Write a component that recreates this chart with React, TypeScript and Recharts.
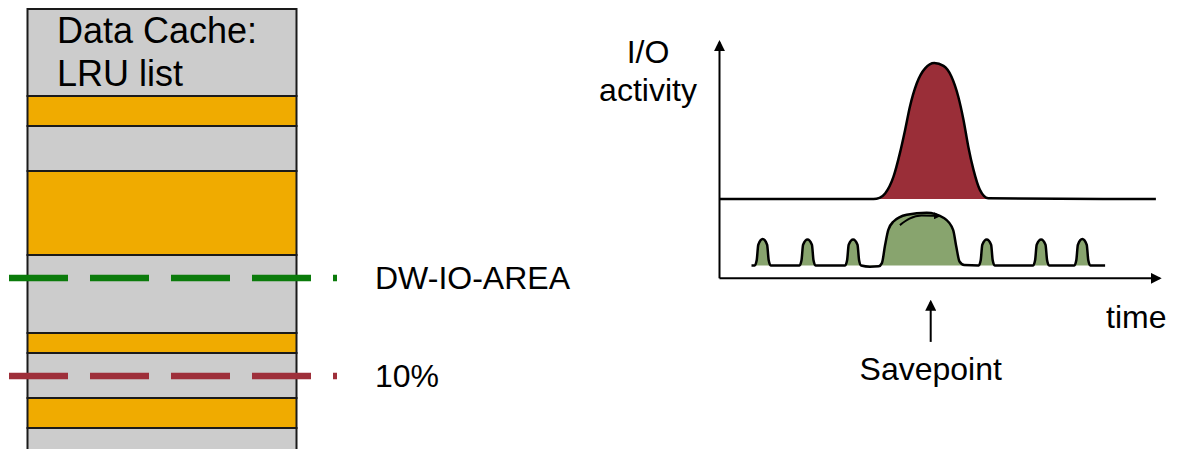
import { BarChart, Bar, XAxis, YAxis, ReferenceLine, ComposedChart, Area, Line } from 'recharts'

// data cache LRU list, blocks from bottom to top
const lruBlocks = [32, 30, 45, 20, 78, 84, 45, 30, 87]
const lruDirty = [false, true, false, true, false, true, false, true, false]
const dwIoAreaLevel = 182
const tenPercentLevel = 84

// I/O activity over time: [time, activity]
const savepointIo: [number, number][] = [
  [0, 19.8], [38.5, 19.8], [40.0, 20.1], [41.4, 21.2], [43.5, 25.4], [45.1, 31.3],
  [46.4, 37.1], [47.6, 42.9], [49.3, 48.7], [51.4, 52.5], [53.7, 53.8], [56.0, 53.1],
  [58.0, 50.4], [59.7, 45.4], [61.0, 39.6], [62.2, 32.9], [63.5, 27.1], [65.1, 22.1],
  [67.2, 20.0], [109.1, 19.8],
]

const regularIo: [number, number][] = [
  [8.0, 3.2],
  [8.8, 3.2], [9.3, 4.5], [9.7, 8.4], [10.8, 9.8], [11.9, 8.4], [12.3, 4.5], [12.8, 3.2],
  [20.0, 3.2], [20.5, 4.5], [20.9, 8.4], [22.0, 9.7], [23.1, 8.4], [23.5, 4.5], [24.0, 3.2],
  [31.4, 3.2], [31.9, 4.5], [32.3, 8.4], [33.4, 9.7], [34.5, 8.4], [34.9, 4.5], [35.4, 3.2],
  [37.6, 2.9], [39.8, 3.0], [40.6, 3.8], [41.4, 8.3], [42.2, 12.1], [43.5, 14.2],
  [46.8, 15.9], [51.8, 16.4], [56.2, 15.0], [58.4, 12.1], [59.2, 7.9], [60.0, 4.2], [61.2, 3.3],
  [64.8, 3.2], [65.3, 4.5], [65.7, 8.4], [66.8, 9.7], [67.9, 8.4], [68.3, 4.5], [68.8, 3.2],
  [78.4, 3.2], [78.9, 4.5], [79.3, 8.4], [80.4, 9.7], [81.5, 8.4], [81.9, 4.5], [82.4, 3.2],
  [88.7, 3.2], [89.2, 4.5], [89.6, 8.4], [90.7, 9.8], [91.8, 8.4], [92.2, 4.5], [92.7, 3.2],
  [96.4, 3.2],
]

const flushArc: [number, number][] = [[45.1, 13.3], [47.5, 14.9], [50.5, 15.7], [54.7, 15.6]]

const savepointTime = 52.8
const savepointArrow = [-15.9, -5.9]

const toPoints = (rows: [number, number][]) => rows.map(([t, v]) => ({ t, v }))

const lruRow: Record<string, number | string> = { name: 'LRU' }
lruBlocks.forEach((h, i) => { lruRow[`b${i}`] = h })

const font = '"Liberation Sans", Arial, sans-serif'

export default function App() {
  return (
    <div style={{ position: 'absolute', left: 0, top: 0, width: 1177, height: 449, overflow: 'hidden', background: '#fff', fontFamily: font }}>
      <svg width={0} height={0} style={{ position: 'absolute' }}>
        <defs>
          <marker id="axisArrow" viewBox="0 0 10 10" refX="8" refY="5" markerWidth="11" markerHeight="11" markerUnits="userSpaceOnUse" orient="auto-start-reverse">
            <path d="M0,0 L10,5 L0,10 z" fill="#000" />
          </marker>
          <marker id="smallArrow" viewBox="0 0 10 10" refX="6" refY="5" markerWidth="7" markerHeight="7" markerUnits="userSpaceOnUse" orient="auto">
            <path d="M0,0 L10,5 L0,10 z" fill="#000" />
          </marker>
        </defs>
      </svg>

      <div style={{ position: 'absolute', left: 0, top: 0 }}>
        <BarChart width={620} height={460} data={[lruRow]} margin={{ top: 9, right: 283, bottom: 0, left: 9 }} barCategoryGap={0}>
          <XAxis dataKey="name" hide padding={{ left: 18.5, right: 41 }} />
          <YAxis hide domain={[0, 451]} />
          {lruBlocks.map((_, i) => (
            <Bar key={i} dataKey={`b${i}`} stackId="lru" fill={lruDirty[i] ? '#f0ab00' : '#cccccc'} stroke="#1a1a1a" strokeWidth={2} isAnimationActive={false} />
          ))}
          <ReferenceLine y={dwIoAreaLevel} stroke="#0b7b0b" strokeWidth={6.5} strokeDasharray="59 22"
            label={{ value: 'DW-IO-AREA', position: 'right', offset: 38, fill: '#000', fontSize: 32 }} />
          <ReferenceLine y={tenPercentLevel} stroke="#9e2f3a" strokeWidth={6.5} strokeDasharray="59 22"
            label={{ value: '10%', position: 'right', offset: 38, fill: '#000', fontSize: 32 }} />
        </BarChart>
      </div>
      <div style={{ position: 'absolute', left: 57, top: 9, fontSize: 36, lineHeight: '43px', color: '#000' }}>
        Data Cache:<br />LRU list
      </div>

      <div style={{ position: 'absolute', left: 600, top: 0 }}>
        <ComposedChart width={577} height={449} margin={{ top: 42.3, right: 17.5, bottom: 169.7, left: 118.5 }}>
          <XAxis type="number" dataKey="t" domain={[0, 110]} allowDataOverflow height={1} tick={false} tickLine={false}
            axisLine={{ stroke: '#000', strokeWidth: 2, markerEnd: 'url(#axisArrow)' }} />
          <YAxis type="number" domain={[0, 59]} allowDataOverflow width={1} tick={false} tickLine={false}
            axisLine={{ stroke: '#000', strokeWidth: 2, markerStart: 'url(#axisArrow)' }} />
          <Area data={toPoints(savepointIo)} dataKey="v" type="monotone" baseValue={19.8} stroke="#000" strokeWidth={2.5} fill="#9a2e38" fillOpacity={1} isAnimationActive={false} />
          <Area data={toPoints(regularIo)} dataKey="v" type="monotone" baseValue={3.2} stroke="#000" strokeWidth={2.5} fill="#88a46e" fillOpacity={1} isAnimationActive={false} />
          <Line data={toPoints(flushArc)} dataKey="v" type="monotone" stroke="#000" strokeWidth={2} dot={false} markerEnd="url(#smallArrow)" isAnimationActive={false} />
          <ReferenceLine segment={[{ x: savepointTime, y: savepointArrow[0] }, { x: savepointTime, y: savepointArrow[1] }]} ifOverflow="visible"
            stroke="#000" strokeWidth={2} markerEnd="url(#axisArrow)"
            label={{ value: 'Savepoint', position: 'bottom', offset: 15, fill: '#000', fontSize: 32 }} />
        </ComposedChart>
      </div>
      <div style={{ position: 'absolute', left: 598, top: 33, width: 100, textAlign: 'center', fontSize: 32, lineHeight: '38px', color: '#000' }}>
        I/O<br />activity
      </div>
      <div style={{ position: 'absolute', left: 1106, top: 298, fontSize: 32, lineHeight: '38px', color: '#000' }}>
        time
      </div>
    </div>
  )
}
